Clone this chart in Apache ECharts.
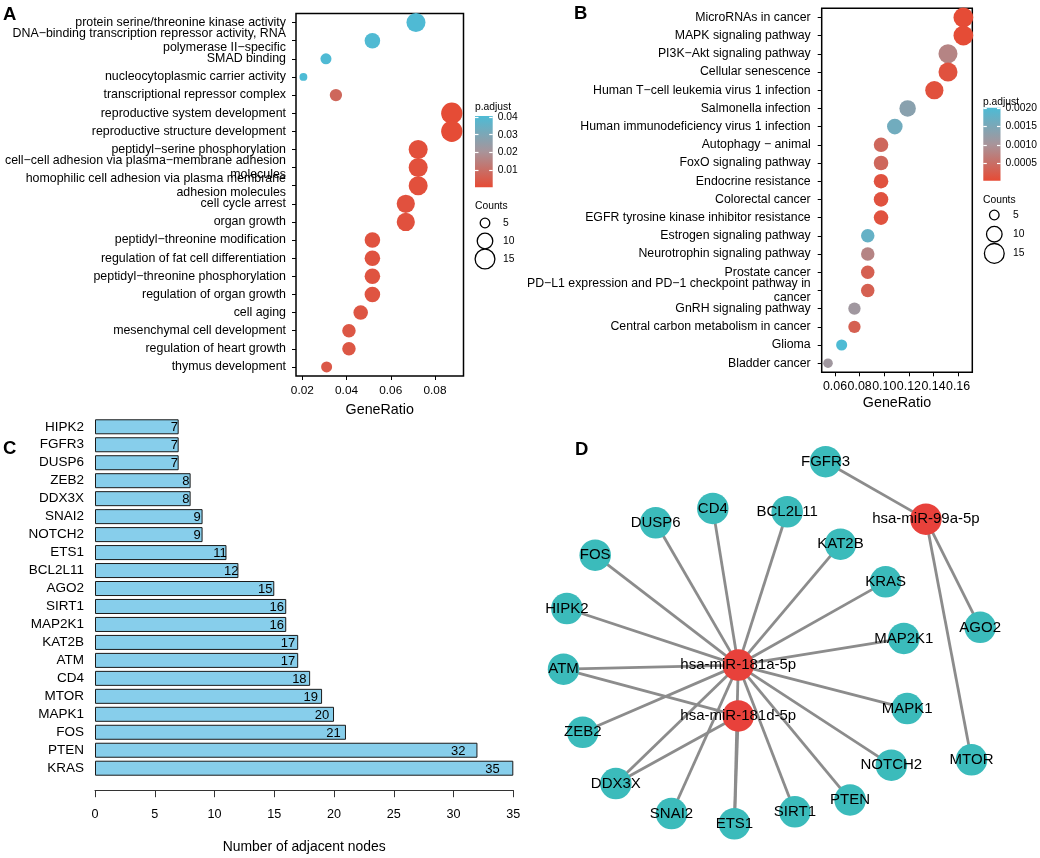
<!DOCTYPE html>
<html><head><meta charset="utf-8">
<script src="https://cdn.jsdelivr.net/npm/echarts@6/dist/echarts.min.js"></script>
<style>html,body{margin:0;padding:0;background:#fff}#c{width:1040px;height:858px}</style>
</head><body><div id="c"></div>
<script>
const FONT = '"Liberation Sans", Arial, Helvetica, sans-serif';

// ---------- Panel A: GO enrichment ----------
const goTerms = [
  'protein serine/threonine kinase activity',
  'DNA\u2212binding transcription repressor activity, RNA\npolymerase II\u2212specific',
  'SMAD binding',
  'nucleocytoplasmic carrier activity',
  'transcriptional repressor complex',
  'reproductive system development',
  'reproductive structure development',
  'peptidyl\u2212serine phosphorylation',
  'cell\u2212cell adhesion via plasma\u2212membrane adhesion\nmolecules',
  'homophilic cell adhesion via plasma membrane\nadhesion molecules',
  'cell cycle arrest',
  'organ growth',
  'peptidyl\u2212threonine modification',
  'regulation of fat cell differentiation',
  'peptidyl\u2212threonine phosphorylation',
  'regulation of organ growth',
  'cell aging',
  'mesenchymal cell development',
  'regulation of heart growth',
  'thymus development'
];
const goRatio = [0.0714, 0.0517, 0.0307, 0.0205, 0.0352, 0.0876, 0.0876, 0.0724, 0.0724, 0.0724,
                 0.0668, 0.0668, 0.0517, 0.0517, 0.0517, 0.0517, 0.0464, 0.0411, 0.0411, 0.0310];
const goCount = [14, 10, 6, 4, 7, 17, 17, 14, 14, 14, 13, 13, 10, 10, 10, 10, 9, 8, 8, 6];
const goPadj  = [0.0400, 0.0398, 0.0401, 0.0405, 0.0080, 0.0006, 0.0006, 0.0016, 0.0018, 0.0018,
                 0.0021, 0.0021, 0.0024, 0.0026, 0.0026, 0.0028, 0.0032, 0.0036, 0.0036, 0.0041];
const goTicks = [0.02, 0.04, 0.06, 0.08];
const goPadjTicks = [0.01, 0.02, 0.03, 0.04];
const goPadjMin = 0.0004, goPadjMax = 0.0405;

// ---------- Panel B: KEGG enrichment ----------
const keggTerms = [
  'MicroRNAs in cancer',
  'MAPK signaling pathway',
  'PI3K\u2212Akt signaling pathway',
  'Cellular senescence',
  'Human T\u2212cell leukemia virus 1 infection',
  'Salmonella infection',
  'Human immunodeficiency virus 1 infection',
  'Autophagy \u2212 animal',
  'FoxO signaling pathway',
  'Endocrine resistance',
  'Colorectal cancer',
  'EGFR tyrosine kinase inhibitor resistance',
  'Estrogen signaling pathway',
  'Neurotrophin signaling pathway',
  'Prostate cancer',
  'PD\u2212L1 expression and PD\u22121 checkpoint pathway in\ncancer',
  'GnRH signaling pathway',
  'Central carbon metabolism in cancer',
  'Glioma',
  'Bladder cancer'
];
const keggRatio = [0.1643, 0.1643, 0.1518, 0.1518, 0.1407, 0.1190, 0.1086, 0.0974, 0.0974, 0.0974,
                   0.0974, 0.0974, 0.0866, 0.0866, 0.0866, 0.0866, 0.0758, 0.0758, 0.0654, 0.0543];
const keggCount = [15, 15, 14, 14, 13, 11, 10, 9, 9, 9, 9, 9, 8, 8, 8, 8, 7, 7, 6, 5];
const keggPadj  = [0.00003, 0.00003, 0.00080, 0.00012, 0.00010, 0.00135, 0.00162, 0.00040, 0.00040, 0.00012,
                   0.00012, 0.00012, 0.00175, 0.00080, 0.00030, 0.00030, 0.00110, 0.00030, 0.00200, 0.00110];
const keggTicks = [0.06, 0.08, 0.10, 0.12, 0.14, 0.16];
const keggPadjTicks = [0.0005, 0.0010, 0.0015, 0.0020];
const keggPadjMin = 0.00002, keggPadjMax = 0.00201;

const countLegend = [5, 10, 15];

// ---------- Panel C: hub degree ----------
const hubGenes = ['HIPK2', 'FGFR3', 'DUSP6', 'ZEB2', 'DDX3X', 'SNAI2', 'NOTCH2', 'ETS1', 'BCL2L11', 'AGO2',
                  'SIRT1', 'MAP2K1', 'KAT2B', 'ATM', 'CD4', 'MTOR', 'MAPK1', 'FOS', 'PTEN', 'KRAS'];
const hubDegree = [7, 7, 7, 8, 8, 9, 9, 11, 12, 15, 16, 16, 17, 17, 18, 19, 20, 21, 32, 35];

// ---------- Panel D: miRNA-target network (layout positions, 0-100 units) ----------
const netNodes = ['FGFR3', 'hsa-miR-99a-5p', 'CD4', 'BCL2L11', 'DUSP6', 'FOS', 'KAT2B', 'KRAS', 'HIPK2', 'AGO2',
                  'MAP2K1', 'hsa-miR-181a-5p', 'ATM', 'MAPK1', 'hsa-miR-181d-5p', 'ZEB2', 'NOTCH2', 'MTOR',
                  'DDX3X', 'PTEN', 'SNAI2', 'SIRT1', 'ETS1'];
const netIsMiRNA = [0, 1, 0, 0, 0, 0, 0, 0, 0, 0, 0, 1, 0, 0, 1, 0, 0, 0, 0, 0, 0, 0, 0];
const netX = [59.5, 80.4, 36.0, 51.5, 24.1, 11.5, 62.6, 72.0, 5.6, 91.7, 75.8, 41.3, 4.9, 76.5, 41.3, 8.9, 73.2, 89.9, 15.8, 64.6, 27.4, 53.1, 40.5];
const netY = [5.3, 19.3, 16.7, 17.5, 20.2, 28.1, 25.4, 34.6, 41.1, 45.7, 48.4, 54.9, 55.9, 65.5, 67.3, 71.3, 79.3, 78.0, 83.8, 87.8, 91.1, 90.7, 93.6];
const netLinks = [
  ['hsa-miR-99a-5p', 'FGFR3'], ['hsa-miR-99a-5p', 'AGO2'], ['hsa-miR-99a-5p', 'MTOR'],
  ['hsa-miR-181a-5p', 'CD4'], ['hsa-miR-181a-5p', 'BCL2L11'], ['hsa-miR-181a-5p', 'DUSP6'],
  ['hsa-miR-181a-5p', 'FOS'], ['hsa-miR-181a-5p', 'KAT2B'], ['hsa-miR-181a-5p', 'KRAS'],
  ['hsa-miR-181a-5p', 'HIPK2'], ['hsa-miR-181a-5p', 'MAP2K1'], ['hsa-miR-181a-5p', 'ATM'],
  ['hsa-miR-181a-5p', 'MAPK1'], ['hsa-miR-181a-5p', 'ZEB2'], ['hsa-miR-181a-5p', 'NOTCH2'],
  ['hsa-miR-181a-5p', 'DDX3X'], ['hsa-miR-181a-5p', 'PTEN'], ['hsa-miR-181a-5p', 'SNAI2'],
  ['hsa-miR-181a-5p', 'SIRT1'], ['hsa-miR-181a-5p', 'ETS1'],
  ['hsa-miR-181d-5p', 'ATM'], ['hsa-miR-181d-5p', 'DDX3X'], ['hsa-miR-181d-5p', 'ETS1']
];

// ---------- styling ----------
const PAL = ['#E64B35', '#A8949A', '#4DBBD5']; // low -> high p.adjust
const TEAL = '#3BBBBB', RED = '#E8413B';
const dotSize = c => Math.sqrt(30 * c - 58);
const txt = (size, extra) => Object.assign({ color: '#000', fontFamily: FONT, fontSize: size }, extra || {});
const barGrad = () => new echarts.graphic.LinearGradient(0, 0, 0, 1, [
  { offset: 0, color: PAL[2] }, { offset: 0.5, color: PAL[1] }, { offset: 1, color: PAL[0] }
]);

function colorbarAxes(grid, min, max, ticks, digits, margin) {
  return [
    { gridIndex: grid, type: 'value', position: 'right', min: min, max: max, z: 10,
      axisLine: { show: false }, splitLine: { show: false },
      axisTick: { show: true, inside: true, length: 3.5, lineStyle: { color: '#fff', width: 1.2 }, customValues: ticks },
      axisLabel: { customValues: ticks, formatter: v => v.toFixed(digits), margin: margin, ...txt(10.3) } },
    { gridIndex: grid, type: 'value', position: 'left', min: min, max: max, z: 10,
      axisLine: { show: false }, splitLine: { show: false },
      axisTick: { show: true, inside: true, length: 3.5, lineStyle: { color: '#fff', width: 1.2 }, customValues: ticks },
      axisLabel: { show: false } }
  ];
}

const option = {
  animation: false,
  backgroundColor: '#fff',
  title: [
    { text: 'A', left: 3, top: 5, padding: 0, textStyle: txt(18.5, { fontWeight: 'bold' }) },
    { text: 'B', left: 574, top: 4.5, padding: 0, textStyle: txt(18.5, { fontWeight: 'bold' }) },
    { text: 'C', left: 3, top: 439, padding: 0, textStyle: txt(18.5, { fontWeight: 'bold' }) },
    { text: 'D', left: 575, top: 440, padding: 0, textStyle: txt(18.5, { fontWeight: 'bold' }) },
    { text: 'p.adjust', left: 475, top: 102, padding: 0, textStyle: txt(10.3, { fontWeight: 'normal' }) },
    { text: 'Counts', left: 475, top: 201.5, padding: 0, textStyle: txt(10.3, { fontWeight: 'normal' }) },
    { text: 'p.adjust', left: 983, top: 97.5, padding: 0, textStyle: txt(10.3, { fontWeight: 'normal' }) },
    { text: 'Counts', left: 983, top: 195, padding: 0, textStyle: txt(10.3, { fontWeight: 'normal' }) }
  ],
  grid: [
    { left: 296, top: 13.5, width: 167.5, height: 362.5, show: true, borderColor: '#000', borderWidth: 1.5 },
    { left: 475, top: 116, width: 17.7, height: 71.3 },
    { left: 475, top: 214, width: 20, height: 54 },
    { left: 821.7, top: 8.3, width: 150.6, height: 364, show: true, borderColor: '#000', borderWidth: 1.5 },
    { left: 983.3, top: 107.8, width: 18.4, height: 73 },
    { left: 984.3, top: 205.4, width: 20, height: 57.6 },
    { left: 95, top: 417.8, width: 418.3, height: 359.4 },
    { left: 540, top: 440, width: 480, height: 410 }
  ],
  xAxis: [
    { gridIndex: 0, type: 'value', min: 0.01715, max: 0.0929,
      axisLine: { show: false }, splitLine: { show: false },
      axisTick: { show: true, length: 4, lineStyle: { color: '#000' }, customValues: goTicks },
      axisLabel: { customValues: goTicks, formatter: v => v.toFixed(2), margin: 9, ...txt(11.8) },
      name: 'GeneRatio', nameLocation: 'middle', nameGap: 27, nameTextStyle: txt(14.3) },
    { gridIndex: 1, type: 'category', data: ['bar'], show: false },
    { gridIndex: 2, type: 'value', min: -1, max: 1, show: false },
    { gridIndex: 3, type: 'value', min: 0.04919, max: 0.17155,
      axisLine: { show: false }, splitLine: { show: false },
      axisTick: { show: true, length: 4, lineStyle: { color: '#000' }, customValues: keggTicks },
      axisLabel: { customValues: keggTicks, formatter: v => v.toFixed(2), margin: 8, ...txt(12.4) },
      name: 'GeneRatio', nameLocation: 'middle', nameGap: 24, nameTextStyle: txt(14.3) },
    { gridIndex: 4, type: 'category', data: ['bar'], show: false },
    { gridIndex: 5, type: 'value', min: -1, max: 1, show: false },
    { gridIndex: 6, type: 'value', min: 0, max: 35, interval: 5, offset: 13,
      axisLine: { show: true, lineStyle: { color: '#333', width: 1 } },
      axisTick: { show: true, length: 7, lineStyle: { color: '#333' } },
      splitLine: { show: false },
      axisLabel: { margin: 18, ...txt(12.6) },
      name: 'Number of adjacent nodes', nameLocation: 'middle', nameGap: 50, nameTextStyle: txt(13.9) },
    { gridIndex: 7, type: 'value', min: 0, max: 100, show: false }
  ],
  yAxis: [
    { gridIndex: 0, type: 'category', data: goTerms, inverse: true,
      axisLine: { show: false }, splitLine: { show: false },
      axisTick: { show: true, alignWithLabel: true, length: 4, lineStyle: { color: '#000' } },
      axisLabel: { interval: 0, margin: 10, lineHeight: 13.6, ...txt(12.4) } },
    ...colorbarAxes(1, goPadjMin, goPadjMax, goPadjTicks, 2, 5),
    { gridIndex: 2, type: 'category', data: countLegend.map(String), inverse: true, position: 'right',
      axisLine: { show: false }, axisTick: { show: false }, splitLine: { show: false },
      axisLabel: { margin: 8, ...txt(10.3) } },
    { gridIndex: 3, type: 'category', data: keggTerms, inverse: true,
      axisLine: { show: false }, splitLine: { show: false },
      axisTick: { show: true, alignWithLabel: true, length: 4, lineStyle: { color: '#000' } },
      axisLabel: { interval: 0, margin: 11, lineHeight: 13.6, ...txt(12.3) } },
    ...colorbarAxes(4, keggPadjMin, keggPadjMax, keggPadjTicks, 4, 5),
    { gridIndex: 5, type: 'category', data: countLegend.map(String), inverse: true, position: 'right',
      axisLine: { show: false }, axisTick: { show: false }, splitLine: { show: false },
      axisLabel: { margin: 8.7, ...txt(10.3) } },
    { gridIndex: 6, type: 'category', data: hubGenes, inverse: true,
      axisLine: { show: false }, axisTick: { show: false }, splitLine: { show: false },
      axisLabel: { interval: 0, margin: 11, ...txt(13.5) } },
    { gridIndex: 7, type: 'value', min: 0, max: 100, inverse: true, show: false }
  ],
  visualMap: [
    { type: 'continuous', show: false, seriesIndex: 0, dimension: 3, min: goPadjMin, max: goPadjMax, inRange: { color: PAL } },
    { type: 'continuous', show: false, seriesIndex: 4, dimension: 3, min: keggPadjMin, max: keggPadjMax, inRange: { color: PAL } }
  ],
  series: [
    { type: 'scatter', xAxisIndex: 0, yAxisIndex: 0,
      data: goTerms.map((t, i) => [goRatio[i], t, goCount[i], goPadj[i]]),
      symbolSize: v => dotSize(v[2]), itemStyle: { opacity: 1 } },
    { type: 'bar', xAxisIndex: 1, yAxisIndex: 1, stack: 'cbA', data: [goPadjMin], barWidth: '100%',
      itemStyle: { color: 'rgba(0,0,0,0)' }, silent: true },
    { type: 'bar', xAxisIndex: 1, yAxisIndex: 1, stack: 'cbA', data: [goPadjMax - goPadjMin], barWidth: '100%',
      itemStyle: { color: barGrad() }, silent: true },
    { type: 'scatter', xAxisIndex: 2, yAxisIndex: 3,
      data: countLegend.map(c => [0, String(c)]),
      symbolSize: v => dotSize(Number(v[1])),
      itemStyle: { color: '#fff', borderColor: '#000', borderWidth: 1.3, opacity: 1 } },
    { type: 'scatter', xAxisIndex: 3, yAxisIndex: 4,
      data: keggTerms.map((t, i) => [keggRatio[i], t, keggCount[i], keggPadj[i]]),
      symbolSize: v => dotSize(v[2]), itemStyle: { opacity: 1 } },
    { type: 'bar', xAxisIndex: 4, yAxisIndex: 5, stack: 'cbB', data: [keggPadjMin], barWidth: '100%',
      itemStyle: { color: 'rgba(0,0,0,0)' }, silent: true },
    { type: 'bar', xAxisIndex: 4, yAxisIndex: 5, stack: 'cbB', data: [keggPadjMax - keggPadjMin], barWidth: '100%',
      itemStyle: { color: barGrad() }, silent: true },
    { type: 'scatter', xAxisIndex: 5, yAxisIndex: 7,
      data: countLegend.map(c => [0, String(c)]),
      symbolSize: v => dotSize(Number(v[1])),
      itemStyle: { color: '#fff', borderColor: '#000', borderWidth: 1.3, opacity: 1 } },
    { type: 'bar', xAxisIndex: 6, yAxisIndex: 8, data: hubDegree, barCategoryGap: '16.5%',
      itemStyle: { color: '#87CEEB', borderColor: '#1a1a1a', borderWidth: 1 },
      label: { show: true, position: 'insideRight', ...txt(13) },
      labelLayout: p => ({ x: p.rect.x + p.rect.width * 0.95, y: p.rect.y + p.rect.height / 2 + 1, align: 'center', verticalAlign: 'middle' }) },
    { type: 'graph', layout: 'none', coordinateSystem: 'cartesian2d', xAxisIndex: 7, yAxisIndex: 9,
      symbolSize: 31.5, roam: false,
      categories: [{ name: 'gene', itemStyle: { color: TEAL } }, { name: 'miRNA', itemStyle: { color: RED } }],
      data: netNodes.map((n, i) => ({ name: n, value: [netX[i], netY[i]], category: netIsMiRNA[i] })),
      links: netLinks.map(l => ({ source: l[0], target: l[1] })),
      lineStyle: { color: '#8c8c8c', width: 2.8, opacity: 1, curveness: 0 },
      label: { show: true, position: 'inside', ...txt(15) },
      emphasis: { disabled: true } }
  ]
};

const chart = echarts.init(document.getElementById('c'), null, { renderer: 'canvas', width: 1040, height: 858 });
chart.setOption(option);
</script>
</body></html>
